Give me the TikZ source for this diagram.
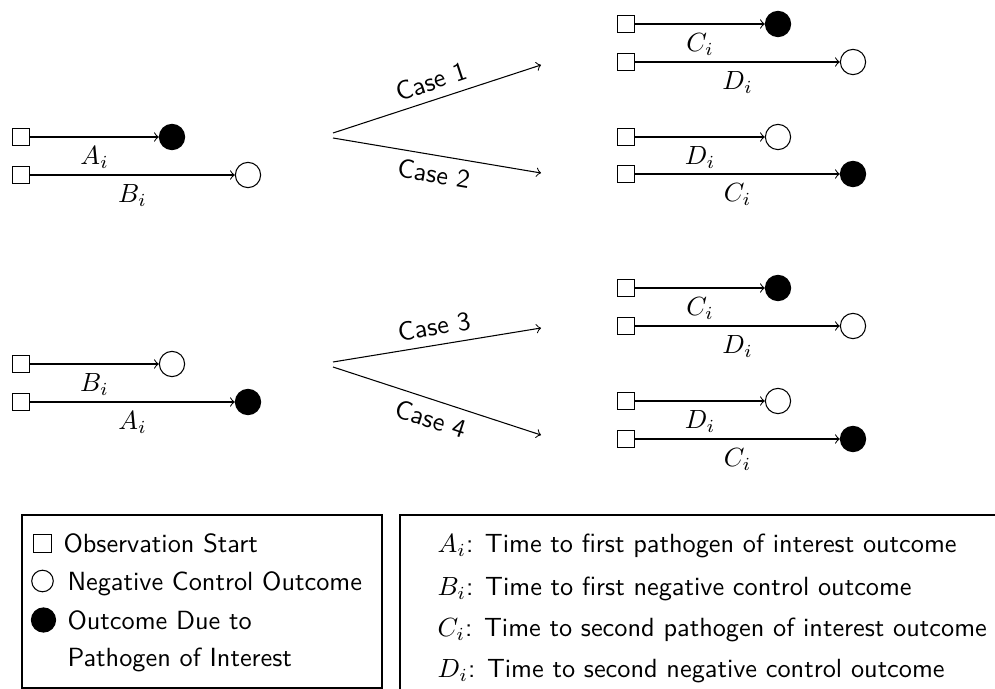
\documentclass[tikz,border=0pt]{standalone}
\begin{document}
\begin{tikzpicture}[x=0.38023pt,y=-0.38023pt,
  sq/.style={draw,minimum size=6.7pt,inner sep=0pt},
  filled/.style={circle,draw,fill=black,minimum size=9.6pt,inner sep=0pt},
  open/.style={circle,draw,fill=white,minimum size=9.6pt,inner sep=0pt},
  conn/.style={->},
  lab/.style={below},
  casearrow/.style={->},
  caselab/.style={font=\sffamily,sloped},
  leg/.style={anchor=west,text height=7pt,text depth=0pt,inner sep=0pt,font=\sffamily},
  legsq/.style={draw,minimum size=6.8pt,inner sep=0pt},
  legopen/.style={circle,draw,minimum size=8.2pt,inner sep=0pt},
  legfilled/.style={circle,draw,fill=black,minimum size=9.2pt,inner sep=0pt},
]
\useasboundingbox (0,0) rectangle (995,689);
\clip (0,0) rectangle (995,689);

% ---------- top-left group
\node[sq] (a1s) at (21,137) {};
\node[filled] (a1c) at (172,137) {};
\draw[conn] (a1s) -- (a1c) node[midway,lab] {$A_i$};
\node[sq] (a2s) at (21,175) {};
\node[open] (a2c) at (248,175) {};
\draw[conn] (a2s) -- (a2c) node[midway,lab] {$B_i$};

% ---------- bottom-left group
\node[sq] (b1s) at (21,364) {};
\node[open] (b1c) at (172,364) {};
\draw[conn] (b1s) -- (b1c) node[midway,lab] {$B_i$};
\node[sq] (b2s) at (21,402) {};
\node[filled] (b2c) at (248,402) {};
\draw[conn] (b2s) -- (b2c) node[midway,lab] {$A_i$};

% ---------- case arrows
\coordinate (k1s) at (333,133);
\coordinate (k1e) at (541,65);
\coordinate (k2s) at (333,138);
\coordinate (k2e) at (541,173);
\coordinate (k3s) at (333,362);
\coordinate (k3e) at (541,328);
\coordinate (k4s) at (333,367);
\coordinate (k4e) at (541,435);
\draw[casearrow] (k1s) -- (k1e) node[midway,caselab,above] {Case 1};
\draw[casearrow] (k2s) -- (k2e) node[midway,caselab,below] {Case 2};
\draw[casearrow] (k3s) -- (k3e) node[midway,caselab,above] {Case 3};
\draw[casearrow] (k4s) -- (k4e) node[midway,caselab,below] {Case 4};

% ---------- top-right group
\node[sq] (r1s) at (626,24) {};
\node[filled] (r1c) at (778,24) {};
\draw[conn] (r1s) -- (r1c) node[midway,lab] {$C_i$};
\node[sq] (r2s) at (626,62) {};
\node[open] (r2c) at (853,62) {};
\draw[conn] (r2s) -- (r2c) node[midway,lab] {$D_i$};
\node[sq] (r3s) at (626,137) {};
\node[open] (r3c) at (778,137) {};
\draw[conn] (r3s) -- (r3c) node[midway,lab] {$D_i$};
\node[sq] (r4s) at (626,174) {};
\node[filled] (r4c) at (853,174) {};
\draw[conn] (r4s) -- (r4c) node[midway,lab] {$C_i$};

% ---------- bottom-right group
\node[sq] (q1s) at (626,288) {};
\node[filled] (q1c) at (778,288) {};
\draw[conn] (q1s) -- (q1c) node[midway,lab] {$C_i$};
\node[sq] (q2s) at (626,326) {};
\node[open] (q2c) at (853,326) {};
\draw[conn] (q2s) -- (q2c) node[midway,lab] {$D_i$};
\node[sq] (q3s) at (626,401) {};
\node[open] (q3c) at (778,401) {};
\draw[conn] (q3s) -- (q3c) node[midway,lab] {$D_i$};
\node[sq] (q4s) at (626,439) {};
\node[filled] (q4c) at (853,439) {};
\draw[conn] (q4s) -- (q4c) node[midway,lab] {$C_i$};

% ---------- legend (symbols)
\draw (22,515) rectangle (382,688);
\node[legsq] (lsq) at (42.5,543.5) {};
\node[leg] (lt1) at (63,543.5) {Observation Start};
\node[legopen] (lop) at (42.5,581) {};
\node[leg] (lt2) at (67,581) {Negative Control Outcome};
\node[legfilled] (lfi) at (43.5,620) {};
\node[leg] (lt3) at (67,620) {Outcome Due to};
\node[leg] (lt4) at (67,657) {Pathogen of Interest};

% ---------- legend (variables)
\draw (400,515) rectangle (1005,695);
\node[leg] (v1) at (437,543) {$A_i$: Time to first pathogen of interest outcome};
\node[leg] (v2) at (437,586) {$B_i$: Time to first negative control outcome};
\node[leg] (v3) at (437,627) {$C_i$: Time to second pathogen of interest outcome};
\node[leg] (v4) at (437,668) {$D_i$: Time to second negative control outcome};
\end{tikzpicture}
\end{document}
